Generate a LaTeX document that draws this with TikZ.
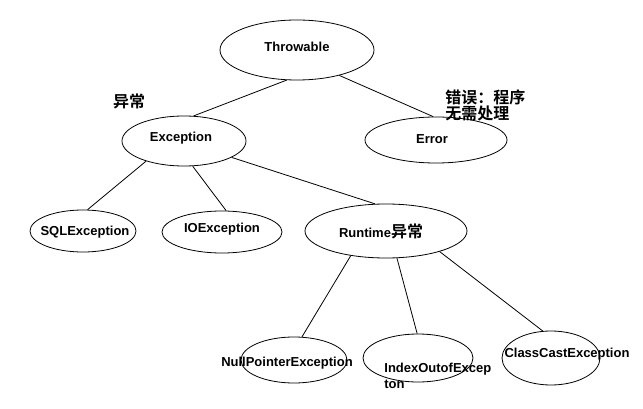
\documentclass[tikz,border=0pt]{standalone}
\usepackage{fontspec}
\setmainfont{Liberation Sans}
\newfontfamily\cjk{Noto Sans CJK SC}[BoldFont={Noto Sans CJK SC Bold}]
\usetikzlibrary{shapes.geometric}
\newcommand{\zh}[1]{{\cjk\bfseries\fontsize{16}{16}\selectfont #1}}

\begin{document}
\begin{tikzpicture}[x=1pt, y=-1pt, line width=0.8pt,
    oval/.style={ellipse, draw=black, inner sep=0pt},
    txt/.style={font=\bfseries\fontsize{13}{16}\selectfont, inner sep=0pt}]
        \useasboundingbox (0,0) rectangle (643,409);

        \node[oval, minimum width=154, minimum height=60] (throwable) at (297,50) {};
        \node[oval, minimum width=124, minimum height=50] (exception) at (184,141) {};
        \node[oval, minimum width=142, minimum height=46] (error) at (436,140) {};
        \node[oval, minimum width=106, minimum height=42] (sql) at (83,231) {};
        \node[oval, minimum width=120, minimum height=42] (io) at (222,232) {};
        \node[oval, minimum width=162, minimum height=54] (runtime) at (386,231) {};
        \node[oval, minimum width=106, minimum height=46] (nullptr) at (294,360) {};
        \node[oval, minimum width=110, minimum height=48] (index) at (418,358) {};
        \node[oval, minimum width=98, minimum height=54] (classcast) at (551,358) {};

        \node[txt] (tThrowable) at (297,47) {Throwable};
        \node[txt] (tException) at (181,138) {Exception};
        \node[txt] (tError) at (432,139) {Error};
        \node[txt] (tSql) at (85,232) {SQLException};
        \node[txt] (tIo) at (222,229) {IOException};
        \node[txt] (tRuntime) at (381,231) {Runtime\zh{异常}};
        \node[txt] (tNullptr) at (287,363) {NullPointerException};
        \node[txt, align=left, anchor=west] (tIndex) at (384,376) {IndexOutofExcep\\ton};
        \node[txt] (tClasscast) at (567,354) {ClassCastException};
        \node[txt] (tYichang) at (129,101) {\zh{异常}};
        \node[txt, align=left, anchor=west] (tCuowu) at (445,105) {\zh{错误：程序}\\\zh{无需处理}};

        \draw (throwable.251.6) -- (exception.69.4);
        \draw (throwable.329.8) -- (error.97.4);
        \draw (exception.208.8) -- (sql.78.7);
        \draw (exception.289.1) -- (io.79.2);
        \draw (exception.341.6) -- (runtime.112.2);
        \draw (runtime.215.1) -- (nullptr.71.6);
        \draw (runtime.292.5) -- (index.92.4);
        \draw (runtime.339.6) -- (classcast.107.7);
    \end{tikzpicture}
\end{document}
